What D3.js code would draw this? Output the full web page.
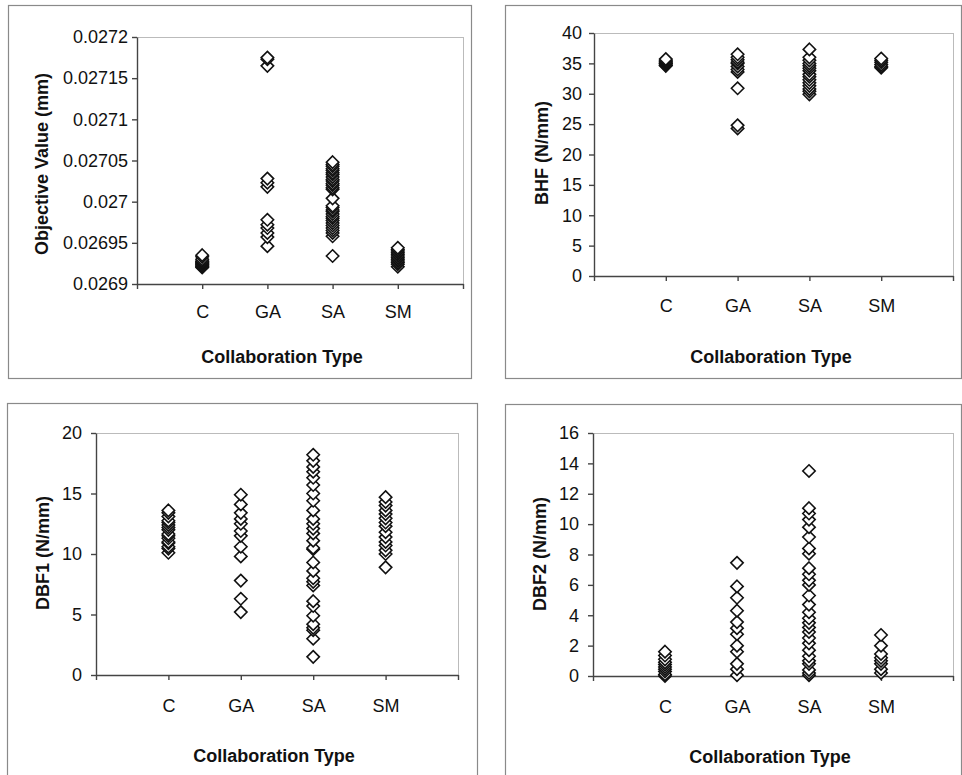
<!DOCTYPE html>
<html>
<head>
<meta charset="utf-8">
<script src="https://cdn.jsdelivr.net/npm/d3@7"></script>
<style>
  body { margin: 0; background: #fff; }
  svg { display: block; }
</style>
</head>
<body>
<div id="chart"></div>
<script>
const categories = ["C", "GA", "SA", "SM"];

// objective value (mm)
const objTicks = [0.0269, 0.02695, 0.027, 0.02705, 0.0271, 0.02715, 0.0272];
const objC = [0.026935, 0.026933, 0.02693, 0.026928, 0.026927, 0.026926, 0.026925, 0.026924, 0.026923, 0.026922, 0.026921, 0.02692];
const objGA = [0.027175, 0.027173, 0.027165, 0.027028, 0.027023, 0.027018, 0.026978, 0.026972, 0.026968, 0.026962, 0.026957, 0.026946];
const objSA = [0.027048, 0.027045, 0.027043, 0.02704, 0.027038, 0.027035, 0.027033, 0.02703, 0.027027, 0.027025, 0.027022, 0.02702, 0.027017, 0.027015,
  0.027004, 0.026995, 0.026993, 0.02699, 0.026988, 0.026985, 0.026982, 0.02698, 0.026977, 0.026974, 0.026971, 0.026968, 0.026965, 0.026962, 0.026958, 0.026934];
const objSM = [0.026944, 0.026942, 0.02694, 0.026938, 0.026936, 0.026934, 0.026932, 0.02693, 0.026928, 0.026926, 0.026924, 0.026921];

// BHF (N/mm)
const bhfTicks = [0, 5, 10, 15, 20, 25, 30, 35, 40];
const bhfC = [35.7, 35.5, 35.3, 35.1, 35.0, 34.9, 34.7, 34.6];
const bhfGA = [36.5, 36.0, 35.6, 35.2, 35.0, 34.5, 34.0, 33.6, 30.9, 24.8, 24.3];
const bhfSA = [37.3, 36.0, 35.5, 35.0, 34.6, 34.2, 33.8, 33.2, 32.8, 32.3, 31.8, 31.3, 30.8, 30.4, 29.9];
const bhfSM = [35.8, 35.5, 35.2, 34.8, 34.5, 34.3];

// DBF1 (N/mm)
const dbf1Ticks = [0, 5, 10, 15, 20];
const dbf1C = [13.6, 13.4, 13.1, 12.75, 12.6, 12.4, 12.2, 12.0, 11.65, 11.5, 11.3, 11.0, 10.9, 10.6, 10.45, 10.1];
const dbf1GA = [14.9, 14.1, 13.4, 12.9, 12.5, 11.9, 11.5, 10.6, 9.8, 7.8, 6.3, 5.2];
const dbf1SA = [18.2, 17.7, 17.2, 16.8, 16.3, 15.7, 15.0, 14.4, 13.6, 12.9, 12.5, 12.1, 11.7, 11.1, 10.5, 10.4, 9.3, 8.6, 8.0, 7.7, 7.4,
  6.1, 5.7, 4.9, 4.2, 3.9, 3.7, 3.0, 1.5];
const dbf1SM = [14.7, 14.3, 14.0, 13.6, 13.3, 12.95, 12.6, 12.3, 11.8, 11.4, 11.0, 10.7, 10.3, 10.0, 8.9];

// DBF2 (N/mm)
const dbf2Ticks = [0, 2, 4, 6, 8, 10, 12, 14, 16];
const dbf2C = [1.6, 1.35, 1.1, 0.9, 0.75, 0.6, 0.45, 0.3, 0.1, 0.0];
const dbf2GA = [7.45, 5.9, 5.15, 4.3, 3.55, 3.15, 2.75, 2.0, 1.6, 0.8, 0.45, 0.05];
const dbf2SA = [13.5, 11.05, 10.7, 10.3, 9.8, 9.15, 8.4, 8.05, 7.1, 6.7, 6.3, 6.0, 5.3, 4.7, 4.2, 3.8, 3.5, 3.2, 2.9, 2.5, 2.15,
  1.7, 1.3, 1.0, 0.8, 0.4, 0.2, 0.05];
const dbf2SM = [2.7, 2.0, 1.45, 1.2, 1.0, 0.8, 0.45, 0.2];

const panels = [
  { box: [8, 5, 471, 378], plot: [137, 37, 463, 284], ticks: objTicks, series: [objC, objGA, objSA, objSM],
    yTitle: "Objective Value (mm)", yTitleX: 42, yTitleY: 164, xTitleX: 282, xTitleY: 363, xLabY: 312, yPad: 4,
    fmt: d => String(+d.toFixed(5)) },
  { box: [505, 5, 961, 378], plot: [594, 33, 953, 276], ticks: bhfTicks, series: [bhfC, bhfGA, bhfSA, bhfSM],
    yTitle: "BHF (N/mm)", yTitleX: 542, yTitleY: 153, xTitleX: 771, xTitleY: 363, xLabY: 306, yPad: 7,
    fmt: d => d },
  { box: [7, 403, 477, 790], plot: [96, 433, 458, 675], ticks: dbf1Ticks, series: [dbf1C, dbf1GA, dbf1SA, dbf1SM],
    yTitle: "DBF1 (N/mm)", yTitleX: 43, yTitleY: 553, xTitleX: 274, xTitleY: 762, xLabY: 706, yPad: 9,
    fmt: d => d },
  { box: [505, 404, 961, 790], plot: [593, 433, 953, 676], ticks: dbf2Ticks, series: [dbf2C, dbf2GA, dbf2SA, dbf2SM],
    yTitle: "DBF2 (N/mm)", yTitleX: 540, yTitleY: 554, xTitleX: 770, xTitleY: 763, xLabY: 707, yPad: 9,
    fmt: d => d }
];

const font = "'Liberation Sans', Arial, sans-serif";
const diamond = "M0,-6.2L6.2,0L0,6.2L-6.2,0Z";

const svg = d3.select("#chart")
  .append("svg")
    .attr("width", 962)
    .attr("height", 775)
    .style("background-color", "#fff");

panels.forEach(function(p) {
  const [bx0, by0, bx1, by1] = p.box;
  const [px0, py0, px1, py1] = p.plot;

  svg.append("rect")
    .attr("x", bx0 + 0.5).attr("y", by0 + 0.5)
    .attr("width", bx1 - bx0).attr("height", by1 - by0)
    .attr("fill", "none")
    .attr("stroke", "#8a8a8a")
    .attr("stroke-width", 1.2);

  const x = d3.scaleLinear().domain([0, 5]).range([px0, px1]);
  const y = d3.scaleLinear().domain([p.ticks[0], p.ticks[p.ticks.length - 1]]).range([py1, py0]);

  // plot area border (dotted, top/right)
  svg.append("rect")
    .attr("x", px0 + 0.5).attr("y", py0 + 0.5)
    .attr("width", px1 - px0).attr("height", py1 - py0)
    .attr("fill", "none")
    .attr("stroke", "#777")
    .attr("stroke-dasharray", "1,1");

  const xAxis = svg.append("g")
    .attr("transform", "translate(0," + py1 + ")")
    .call(d3.axisBottom(x).tickValues([0, 1, 2, 3, 4, 5]).tickSize(5).tickSizeOuter(0)
      .tickFormat(d => categories[d - 1] || ""));
  xAxis.selectAll("text")
    .attr("y", p.xLabY - py1)
    .attr("dy", "0.35em");

  const yAxis = svg.append("g")
    .attr("transform", "translate(" + px0 + ",0)")
    .call(d3.axisLeft(y).tickValues(p.ticks).tickSize(5).tickSizeOuter(0).tickPadding(p.yPad)
      .tickFormat(p.fmt));

  [xAxis, yAxis].forEach(function(g) {
    g.attr("font-family", font).attr("font-size", 18);
    g.selectAll(".domain, .tick line").attr("stroke", "#444").attr("stroke-width", 1.4);
    g.selectAll("text").attr("fill", "#111");
  });

  svg.append("text")
    .attr("transform", "translate(" + p.yTitleX + "," + p.yTitleY + ") rotate(-90)")
    .attr("text-anchor", "middle")
    .attr("dy", "0.35em")
    .attr("font-family", font)
    .attr("font-weight", "bold")
    .attr("font-size", 18)
    .attr("fill", "#111")
    .text(p.yTitle);

  svg.append("text")
    .attr("x", p.xTitleX)
    .attr("y", p.xTitleY)
    .attr("text-anchor", "middle")
    .attr("font-family", font)
    .attr("font-weight", "bold")
    .attr("font-size", 18)
    .attr("fill", "#111")
    .text("Collaboration Type");

  p.series.forEach(function(vals, i) {
    const sorted = vals.slice().sort((a, b) => a - b);
    svg.append("g")
      .selectAll("path")
      .data(sorted)
      .enter()
      .append("path")
        .attr("d", diamond)
        .attr("transform", d => "translate(" + x(i + 1) + "," + y(d) + ")")
        .attr("fill", "#fff")
        .attr("stroke", "#111")
        .attr("stroke-width", 1.6);
  });
});
</script>
</body>
</html>
